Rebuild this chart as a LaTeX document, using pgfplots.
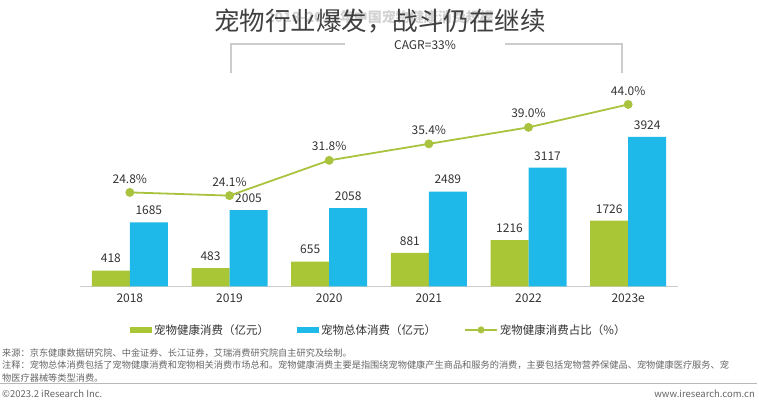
\documentclass[border=0pt]{standalone}
\usepackage{pgfplots}
\pgfplotsset{compat=1.18}
\usepackage{fontspec}
\setmainfont{Noto Sans CJK SC}
\definecolor{cgreen}{HTML}{A8C636}
\definecolor{cblue}{HTML}{1EB9E8}
\definecolor{cline}{HTML}{A9C33E}
\definecolor{ctext}{HTML}{333333}
\definecolor{cnote}{HTML}{666666}
\begin{document}
\begin{tikzpicture}[x=1pt,y=1pt]
\path[use as bounding box] (0pt,0pt) rectangle (759pt,403pt);
% title with watermark
\node[text=gray!35, font=\fontsize{14}{16}\selectfont\bfseries] at (380pt,386pt) {2018-2023年中国宠物健康消费规模};
\node[text=black!75, font=\fontsize{25.5}{28}\selectfont] at (380pt,382pt) {宠物行业爆发，战斗仍在继续};
% CAGR bracket
\draw[gray!40, line width=1.3pt] (231pt,330pt) -- (231pt,359pt) -- (345pt,359pt);
\draw[gray!40, line width=1.3pt] (505pt,359pt) -- (622pt,359pt) -- (622pt,330pt);
\node[text=ctext, font=\fontsize{12}{14}\selectfont] at (425pt,358pt) {CAGR=33\%};

\begin{axis}[
  at={(80pt,116.5pt)}, anchor=south west,
  scale only axis, width=598pt, height=196.5pt,
  xmin=-0.5, xmax=5.5, ymin=0, ymax=5157,
  axis x line=bottom, axis y line=none,
  x axis line style={draw=gray!40, line width=1.2pt, -},
  xtick={0,1,2,3,4,5},
  xticklabels={2018,2019,2020,2021,2022,2023e},
  major tick length=0pt,
  xticklabel style={text=ctext, font=\fontsize{12}{14}\selectfont, yshift=-4pt},
  point meta=explicit symbolic,
  nodes near coords,
  nodes near coords style={text=ctext, font=\fontsize{12}{14}\selectfont, yshift=4pt},
  legend columns=3,
  legend style={at={(0.0836,-0.221)}, anchor=west, draw=none, fill=none,
    inner sep=0pt, font=\fontsize{11.5}{13}\selectfont, text=ctext,
    /tikz/every even column/.append style={column sep=26pt}},
  clip=false,
]
\addplot[ybar, bar width=38pt, bar shift=-19pt, fill=cgreen, draw=none,
  every node near coord/.append style={xshift=-19pt},
  legend image code/.code={\fill[cgreen] (0pt,-3pt) rectangle (22pt,3pt);}]
  coordinates {(0,418) [418] (1,483) [483] (2,655) [655] (3,881) [881] (4,1216) [1216] (5,1726) [1726]};
\addlegendentry{宠物健康消费（亿元）}
\addplot[ybar, bar width=38pt, bar shift=19pt, fill=cblue, draw=none,
  every node near coord/.append style={xshift=19pt},
  legend image code/.code={\fill[cblue] (0pt,-3pt) rectangle (22pt,3pt);}]
  coordinates {(0,1685) [1685] (1,2005) [2005] (2,2058) [2058] (3,2489) [2489] (4,3117) [3117] (5,3924) [3924]};
\addlegendentry{宠物总体消费（亿元）}
\addlegendimage{cline,
  legend image code/.code={\draw[cline, line width=1.8pt] (0pt,0pt) -- (32pt,0pt); \fill[cline] (16pt,0pt) circle (3.3pt);}}
\addlegendentry{宠物健康消费占比（\%）}
\end{axis}

\begin{axis}[
  at={(80pt,116.5pt)}, anchor=south west,
  scale only axis, width=598pt, height=196.5pt,
  xmin=-0.5, xmax=5.5, ymin=4.26, ymax=47.16,
  hide axis, clip=false,
  point meta=explicit symbolic,
  nodes near coords,
  nodes near coords style={text=ctext, font=\fontsize{12}{14}\selectfont, yshift=5pt},
]
\addplot[cline, line width=1.8pt, mark=*, mark size=3.5pt, mark options={fill=cline, draw=cline}]
  coordinates {(0,24.8) [24.8\%] (1,24.1) [24.1\%] (2,31.8) [31.8\%] (3,35.4) [35.4\%] (4,39.0) [39.0\%] (5,44.0) [44.0\%]};
\end{axis}

% notes
\node[anchor=west, text=cnote, font=\fontsize{9.2}{11}\selectfont, inner sep=0pt] at (2pt,50pt) {来源：京东健康数据研究院、中金证券、长江证券，艾瑞消费研究院自主研究及绘制。};
\node[anchor=west, text=cnote, font=\fontsize{9.2}{11}\selectfont, inner sep=0pt] at (2pt,37.5pt) {注释：宠物总体消费包括了宠物健康消费和宠物相关消费市场总和。宠物健康消费主要是指围绕宠物健康产生商品和服务的消费，主要包括宠物营养保健品、宠物健康医疗服务、宠};
\node[anchor=west, text=cnote, font=\fontsize{9.2}{11}\selectfont, inner sep=0pt] at (2pt,25pt) {物医疗器械等类型消费。};
\draw[gray!55, line width=1pt] (0pt,19pt) -- (757pt,19pt);
\node[anchor=west, text=cnote, font=\fontsize{9.5}{11}\selectfont, inner sep=0pt] at (2pt,9pt) {©2023.2 iResearch Inc.};
\node[anchor=east, text=cnote, font=\fontsize{9.5}{11}\selectfont, inner sep=0pt] at (755pt,9pt) {www.iresearch.com.cn};
\end{tikzpicture}
\end{document}
